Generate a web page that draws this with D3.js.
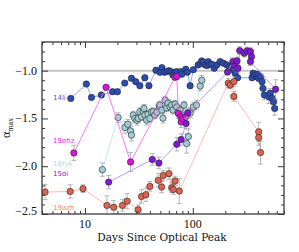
<!DOCTYPE html>
<html>
<head>
<meta charset="utf-8">
<script src="https://cdn.jsdelivr.net/npm/d3@7"></script>
<style>
  body { margin: 0; background: #fff; }
  svg { display: block; }
</style>
</head>
<body>
<div class="chart"></div>
<script>
var width = 299;
var height = 252;

// ---- data (days since optical peak, alpha_max, error) ----
var li14Days = [7.4, 10.3, 11.5, 14.2, 18, 20, 23.4, 27, 29.6, 32.3, 35.9, 39.2, 45.5, 49.6, 51.7, 54.5, 57.3, 60, 62.8, 65.3, 68.4, 71, 77.3, 79, 86, 89, 94.4, 101, 112, 118, 121, 125, 130, 136, 139, 143, 150, 158, 167, 179, 192, 207, 219, 231, 240, 247, 260, 354, 362, 373, 390, 400, 408, 424, 438, 447, 461, 505, 522, 542, 560, 574];
var li14Vals = [-1.29, -1.14, -1.28, -1.255, -1.22, -1.22, -1.13, -1.08, -1.116, -1.158, -1.074, -1.158, -0.996, -1.017, -0.968, -1.017, -1.01, -1.0, -1.01, -1.045, -1.017, -1.01, -1.01, -1.038, -0.985, -1.017, -1.158, -0.99, -0.94, -0.922, -0.898, -0.912, -0.94, -0.947, -0.905, -0.933, -0.933, -0.975, -0.94, -0.905, -0.922, -0.94, -0.958, -0.968, -0.993, -1.027, -1.074, -1.074, -1.027, -1.045, -1.063, -1.038, -1.08, -1.063, -1.115, -1.185, -1.255, -1.273, -1.237, -1.29, -1.325, -1.395];
var li14Errs = [0.01, 0.01, 0.01, 0.01, 0.01, 0.01, 0.01, 0.01, 0.01, 0.01, 0.01, 0.01, 0.01, 0.01, 0.01, 0.01, 0.01, 0.01, 0.01, 0.01, 0.01, 0.01, 0.01, 0.01, 0.01, 0.01, 0.02, 0.01, 0.01, 0.01, 0.01, 0.01, 0.01, 0.01, 0.01, 0.01, 0.01, 0.01, 0.01, 0.01, 0.01, 0.01, 0.01, 0.01, 0.01, 0.02, 0.02, 0.02, 0.02, 0.02, 0.03, 0.03, 0.03, 0.03, 0.04, 0.05, 0.05, 0.07, 0.05, 0.06, 0.06, 0.07];

var fyk18Days = [14.5, 20.3, 23.5, 25, 26.4, 27, 28, 29, 30.3, 31.2, 32.3, 33.5, 34.7, 35.3, 35.9, 37.3, 38.4, 40, 41.3, 42.9, 44.5, 46.5, 48.8, 49.6, 51.7, 52.9, 55.3, 57.3, 58.9, 61.5, 63.7, 65.5, 68.4, 71, 73, 76, 79, 82.8, 87.6, 91, 94.4, 101, 108, 117, 121];
var fyk18Vals = [-2.036, -1.49, -1.595, -1.56, -1.63, -1.675, -1.465, -1.5, -1.52, -1.5, -1.43, -1.483, -1.43, -1.395, -1.465, -1.518, -1.455, -1.5, -1.434, -1.43, -1.465, -1.434, -1.37, -1.36, -1.413, -1.497, -1.308, -1.39, -1.34, -1.378, -1.36, -1.413, -1.35, -1.38, -1.434, -1.413, -1.465, -1.36, -1.763, -1.69, -1.444, -1.38, -1.36, -1.16, -1.1];
var fyk18Errs = [0.07, 0.05, 0.06, 0.05, 0.05, 0.06, 0.04, 0.04, 0.05, 0.04, 0.04, 0.04, 0.04, 0.04, 0.04, 0.05, 0.04, 0.04, 0.04, 0.04, 0.04, 0.04, 0.04, 0.04, 0.04, 0.05, 0.04, 0.04, 0.04, 0.04, 0.04, 0.04, 0.04, 0.04, 0.05, 0.04, 0.05, 0.04, 0.1, 0.08, 0.05, 0.05, 0.05, 0.05, 0.05];

var ehz19Days = [7.9, 15.7, 26.5, 68.4, 71, 73.5, 77.4, 78, 80.5, 86];
var ehz19Vals = [-1.861, -1.174, -1.956, -1.07, -1.06, -1.447, -1.483, -1.536, -1.504, -1.483];
var ehz19Errs = [0.08, 0.02, 0.1, 0.02, 0.02, 0.05, 0.05, 0.06, 0.05, 0.05];

var oi15Days = [16.6, 42.1, 48.5, 71, 78, 86.5, 89.9, 210, 235, 245, 257, 262, 272, 300, 318, 342, 350, 342, 585];
var oi15Vals = [-2.166, -1.93, -1.966, -1.77, -1.72, -1.553, -1.44, -1.014, -0.905, -0.95, -0.898, -0.975, -0.79, -0.817, -0.793, -0.8, -0.853, -0.905, -1.195];
var oi15Errs = [0.07, 0.06, 0.06, 0.07, 0.06, 0.05, 0.05, 0.03, 0.04, 0.04, 0.04, 0.04, 0.04, 0.04, 0.04, 0.04, 0.04, 0.04, 0.1];

var azh19Days = [4.27, 7.3, 9.6, 16, 18.5, 22.3, 24.6, 31.1, 33.5, 36.7, 40, 47.8, 51.4, 53.2, 60.1, 63.7, 65.9, 68.4, 75, 213, 222, 240, 240, 408, 408, 424];
var azh19Vals = [-2.27, -2.264, -2.235, -2.41, -2.43, -2.41, -2.366, -2.456, -2.316, -2.298, -2.211, -2.148, -2.218, -2.096, -2.078, -2.225, -2.243, -2.155, -2.26, -1.13, -1.15, -1.115, -1.27, -1.64, -1.7, -1.857];
var azh19Errs = [0.08, 0.07, 0.04, 0.1, 0.07, 0.06, 0.08, 0.05, 0.07, 0.07, 0.05, 0.07, 0.06, 0.05, 0.06, 0.05, 0.05, 0.05, 0.13, 0.05, 0.04, 0.05, 0.05, 0.1, 0.08, 0.12];

var yTickVals = [-2.5, -2.0, -1.5, -1.0];
var xTickVals = [10, 100];

var series = [
  { name: "14li",  days: li14Days,  vals: li14Vals,  errs: li14Errs,  fill: "#2a4cb4", line: "#7d9cf0", label: "#3a5ad6", lx: 53, ly: 100 },
  { name: "18fyk", days: fyk18Days, vals: fyk18Vals, errs: fyk18Errs, fill: "#a3cdd6", line: "#b8eaf4", label: "#a8dcec", lx: 53, ly: 166 },
  { name: "19ehz", days: ehz19Days, vals: ehz19Vals, errs: ehz19Errs, fill: "#e010e0", line: "#ff66ff", label: "#f020f0", lx: 53, ly: 143 },
  { name: "15oi",  days: oi15Days,  vals: oi15Vals,  errs: oi15Errs,  fill: "#8018d8", line: "#b88cf8", label: "#8010e0", lx: 53, ly: 176 },
  { name: "19azh", days: azh19Days, vals: azh19Vals, errs: azh19Errs, fill: "#e0624e", line: "#ffb4aa", label: "#ff8472", lx: 53, ly: 210 }
];

var pL = 42, pR = 284, pT = 42, pB = 214;

var x = d3.scaleLog().domain([4, 700]).range([pL, pR]);
var y = d3.scaleLinear().domain([-2.5, -0.7]).range([pB, pT]);

var svg = d3.select(".chart").append("svg")
    .attr("width", width)
    .attr("height", height)
    .attr("viewBox", "0 0 " + width + " " + height);

svg.append("defs").append("clipPath")
    .attr("id", "plotclip")
  .append("rect")
    .attr("x", pL)
    .attr("y", pT)
    .attr("width", pR - pL)
    .attr("height", pB - pT);

// reference line at alpha = -1
svg.append("line")
    .attr("x1", pL)
    .attr("x2", pR)
    .attr("y1", y(-1.0))
    .attr("y2", y(-1.0))
    .attr("stroke", "#c6c6c6")
    .attr("stroke-width", 2);

var plot = svg.append("g").attr("clip-path", "url(#plotclip)");

series.forEach(function(s) {
  var pts = s.days.map(function(d, i) { return { d: d, v: s.vals[i], e: s.errs[i] }; });
  var g = plot.append("g").attr("class", "s-" + s.name);

  g.append("path")
      .datum(pts)
      .attr("fill", "none")
      .attr("stroke", s.line)
      .attr("stroke-width", 0.9)
      .attr("d", d3.line().x(function(p) { return x(p.d); }).y(function(p) { return y(p.v); }));

  var eb = g.selectAll(".eb").data(pts.filter(function(p) { return p.e > 0.015; })).enter().append("g")
      .attr("stroke", "#9a9a9a")
      .attr("stroke-width", 0.7);
  eb.append("line")
      .attr("x1", function(p) { return x(p.d); })
      .attr("x2", function(p) { return x(p.d); })
      .attr("y1", function(p) { return y(p.v - p.e); })
      .attr("y2", function(p) { return y(p.v + p.e); });
  eb.append("line")
      .attr("x1", function(p) { return x(p.d) - 2.5; })
      .attr("x2", function(p) { return x(p.d) + 2.5; })
      .attr("y1", function(p) { return y(p.v - p.e); })
      .attr("y2", function(p) { return y(p.v - p.e); });
  eb.append("line")
      .attr("x1", function(p) { return x(p.d) - 2.5; })
      .attr("x2", function(p) { return x(p.d) + 2.5; })
      .attr("y1", function(p) { return y(p.v + p.e); })
      .attr("y2", function(p) { return y(p.v + p.e); });

  g.selectAll("circle").data(pts).enter().append("circle")
      .attr("cx", function(p) { return x(p.d); })
      .attr("cy", function(p) { return y(p.v); })
      .attr("r", 3.2)
      .attr("fill", s.fill)
      .attr("stroke", "#252525")
      .attr("stroke-width", 0.6);

  svg.append("text")
      .attr("x", s.lx)
      .attr("y", s.ly)
      .attr("fill", s.label)
      .attr("font-family", "DejaVu Sans")
      .attr("font-size", 7)
      .text(s.name);
});

// axes: ticks on all four sides, pointing in
var minorX = [];
[1, 10, 100].forEach(function(dec) {
  for (var k = 2; k <= 9; k++) {
    var v = k * dec;
    if (v >= 4 && v <= 700 && xTickVals.indexOf(v) < 0) minorX.push(v);
  }
});
var minorY = d3.range(-25, -6).map(function(k) { return k / 10; })
    .filter(function(v) { return yTickVals.every(function(t) { return Math.abs(t - v) > 1e-6; }); });

var axisColor = "#3a3a3a";

svg.append("g").attr("transform", "translate(0," + pB + ")")
    .call(d3.axisTop(x).tickValues(xTickVals).tickSize(6).tickFormat(""));
svg.append("g").attr("transform", "translate(0," + pB + ")")
    .call(d3.axisTop(x).tickValues(minorX).tickSize(3).tickFormat(""));
svg.append("g").attr("transform", "translate(0," + pT + ")")
    .call(d3.axisBottom(x).tickValues(xTickVals).tickSize(6).tickFormat(""));
svg.append("g").attr("transform", "translate(0," + pT + ")")
    .call(d3.axisBottom(x).tickValues(minorX).tickSize(3).tickFormat(""));
svg.append("g").attr("transform", "translate(" + pL + ",0)")
    .call(d3.axisRight(y).tickValues(yTickVals).tickSize(6).tickFormat(""));
svg.append("g").attr("transform", "translate(" + pL + ",0)")
    .call(d3.axisRight(y).tickValues(minorY).tickSize(3).tickFormat(""));
svg.append("g").attr("transform", "translate(" + pR + ",0)")
    .call(d3.axisLeft(y).tickValues(yTickVals).tickSize(6).tickFormat(""));
svg.append("g").attr("transform", "translate(" + pR + ",0)")
    .call(d3.axisLeft(y).tickValues(minorY).tickSize(3).tickFormat(""));

svg.selectAll(".domain").remove();
svg.selectAll(".tick line").attr("stroke", axisColor).attr("stroke-width", 1);

svg.append("rect")
    .attr("x", pL)
    .attr("y", pT)
    .attr("width", pR - pL)
    .attr("height", pB - pT)
    .attr("fill", "none")
    .attr("stroke", axisColor)
    .attr("stroke-width", 1.3);

// tick labels (bottom one nudged up, as in the original)
svg.selectAll(".ylab").data(yTickVals).enter().append("text")
    .attr("x", pL - 5)
    .attr("y", function(v) { return y(v) + (v === -2.5 ? 0.5 : 4); })
    .attr("text-anchor", "end")
    .attr("font-family", "Liberation Serif")
    .attr("font-size", 12)
    .attr("fill", "#111")
    .text(function(v) { return "\u2212" + Math.abs(v).toFixed(1); });

svg.selectAll(".xlab").data(xTickVals).enter().append("text")
    .attr("x", function(v) { return x(v); })
    .attr("y", pB + 14)
    .attr("text-anchor", "middle")
    .attr("font-family", "Liberation Serif")
    .attr("font-size", 12)
    .attr("fill", "#111")
    .text(function(v) { return v; });

svg.append("text")
    .attr("x", 162)
    .attr("y", 241)
    .attr("text-anchor", "middle")
    .attr("font-family", "DejaVu Serif")
    .attr("font-size", 10.5)
    .attr("fill", "#111")
    .text("Days Since Optical Peak");

var ylab = svg.append("text")
    .attr("transform", "translate(10," + ((pT + pB) / 2) + ") rotate(-90)")
    .attr("text-anchor", "middle")
    .attr("font-family", "Liberation Serif")
    .attr("font-size", 12)
    .attr("fill", "#111");
ylab.append("tspan").text("\u03b1");
ylab.append("tspan").attr("font-size", 8).attr("dy", 3).text("max");
</script>
</body>
</html>
